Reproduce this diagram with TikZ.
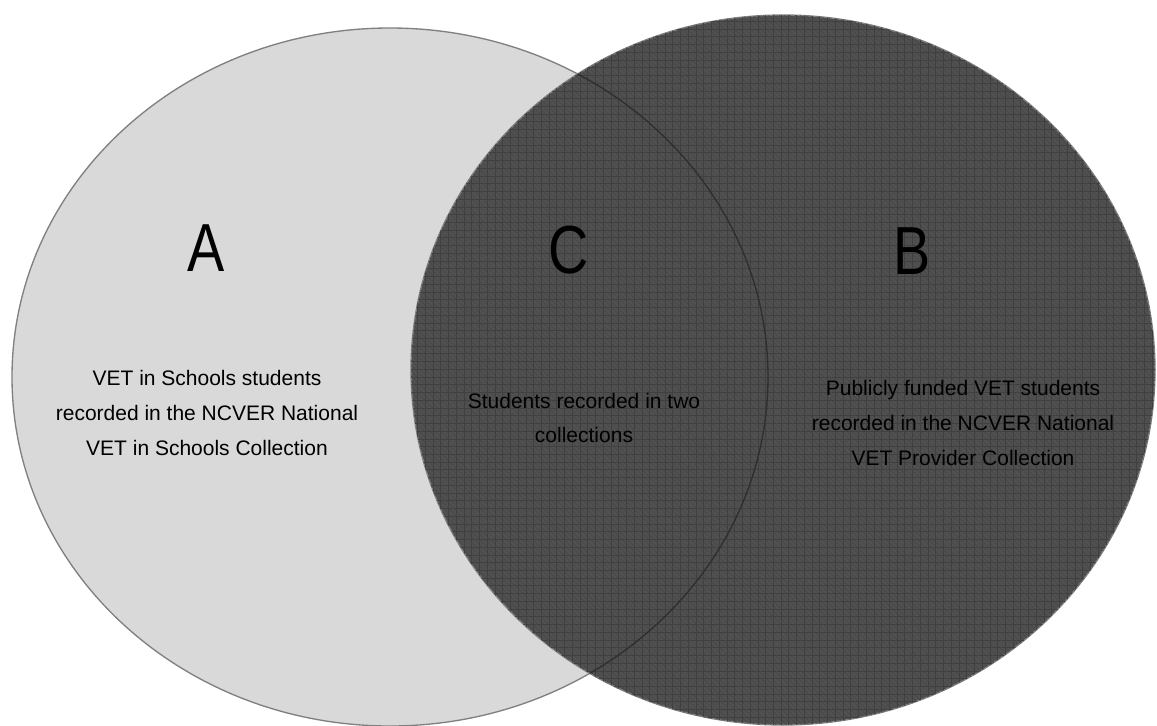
\documentclass[tikz,border=0pt]{standalone}
\usepackage{fontspec}
\setmainfont{Liberation Sans}
\newfontfamily\letterfont[FakeStretch=0.82]{Liberation Sans}
\usetikzlibrary{shapes.geometric, patterns.meta}
\definecolor{setAfill}{HTML}{D9D9D9}
\definecolor{setBfill}{HTML}{505050}
\definecolor{setedge}{HTML}{808080}
\definecolor{gridline}{HTML}{404040}
\definecolor{diagline}{HTML}{474747}
\tikzstyle{setellipse} = [ellipse, draw=setedge, line width=1pt, inner sep=0pt]
\tikzstyle{letter} = [inner sep=0pt, font=\letterfont\fontsize{51}{51}\selectfont]
\tikzstyle{caption} = [align=center, inner sep=0pt, font=\fontsize{15.75}{25.9}\selectfont]

\begin{document}
\begin{tikzpicture}[x=0.75pt, y=-0.75pt]
        \useasboundingbox (0, 0) rectangle (1157, 725);
        \node[setellipse, fill=setAfill, minimum width=567pt, minimum height=523.5pt] at (390, 377) (SetA) {};
        \node[setellipse, fill=setBfill, minimum width=558pt, minimum height=532.5pt,
              postaction={pattern={Lines[angle=-45, distance=2.8pt, line width=0.35pt]}, pattern color=diagline},
              postaction={pattern={Hatch[distance=5.8pt, line width=0.5pt]}, pattern color=gridline}]
              at (783, 370) (SetB) {};
        \begin{scope}
            \clip (SetB.center) ellipse [x radius=279pt, y radius=266.25pt];
            \node[setellipse, draw=black!82, minimum width=567pt, minimum height=523.5pt] at (SetA.center) (SetAEdge) {};
        \end{scope}

        \node[letter] at (206, 248) (LetterA) {A};
        \node[letter] at (569, 250) (LetterC) {C};
        \node[letter] at (912, 251) (LetterB) {B};

        \node[caption] at (207, 413) (TextA) {VET in Schools students\\recorded in the NCVER National\\VET in Schools Collection};
        \node[caption] at (584, 418) (TextC) {Students recorded in two\\collections};
        \node[caption] at (963, 423) (TextB) {Publicly funded VET students\\recorded in the NCVER National\\VET Provider Collection};
    \end{tikzpicture}
\end{document}
